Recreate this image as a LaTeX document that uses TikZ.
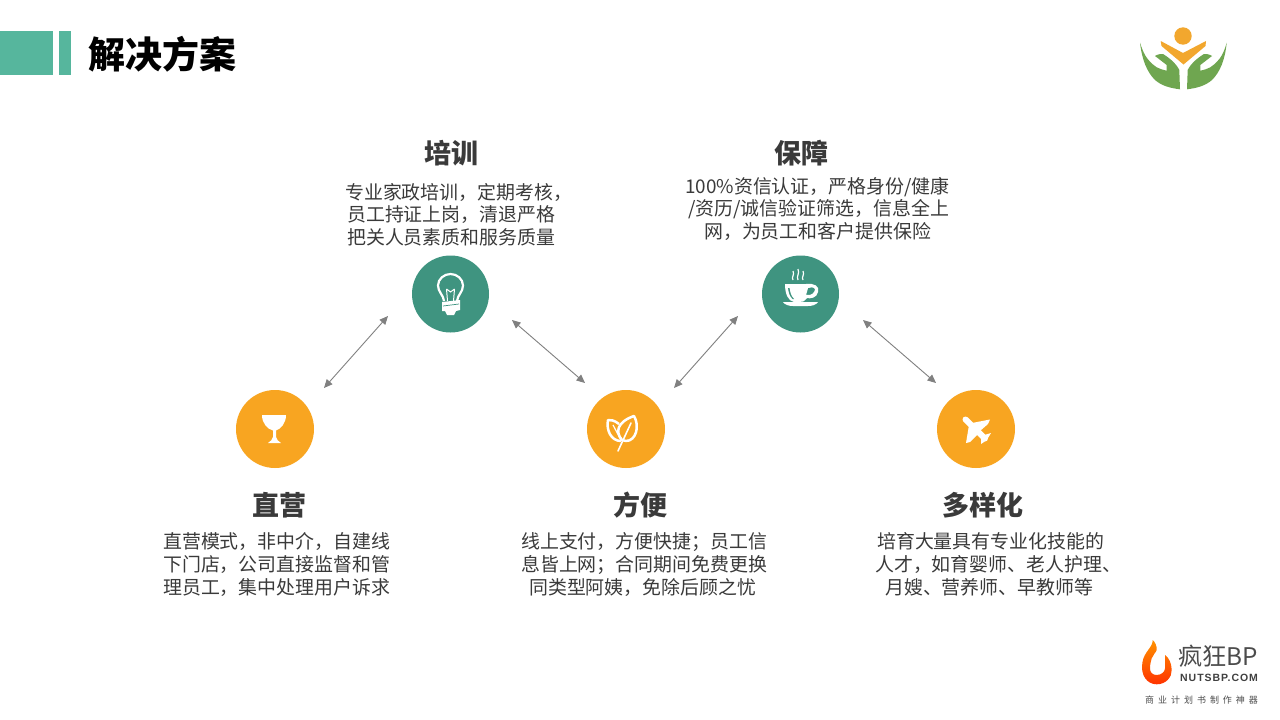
\documentclass[tikz,border=0pt]{standalone}
\usepackage{fontspec}
\setmainfont{Noto Sans CJK SC}
\newfontfamily\sitefont[LetterSpace=9]{Liberation Sans}
\newfontfamily\sloganfont[LetterSpace=44]{Noto Sans CJK SC}
\usetikzlibrary{arrows.meta}
\definecolor{tealbar}{HTML}{56B69D}
\definecolor{tealcirc}{HTML}{3F9480}
\definecolor{orangecirc}{HTML}{F8A521}
\definecolor{txt}{HTML}{3A3A3A}
\definecolor{logogreen}{HTML}{6FA650}
\definecolor{logoorange}{HTML}{F2A72E}
\tikzset{
  greencirc/.style={circle,fill=tealcirc,minimum size=77pt,inner sep=0pt},
  orgcirc/.style={circle,fill=orangecirc,minimum size=78pt,inner sep=0pt},
  head/.style={anchor=center,inner sep=0pt,text=txt,font=\fontsize{27}{27}\selectfont\bfseries},
  body/.style={anchor=base west,inner sep=0pt,text=txt,font=\fontsize{18.92}{19}\selectfont},
  link/.style={draw=black!50,line width=0.9pt,{Triangle[length=8.5pt,width=7.5pt]}-{Triangle[length=8.5pt,width=7.5pt]}},
  icon/.style={fill=white,draw=none},
  iconl/.style={draw=white,fill=none,line width=1.6pt}
}
\begin{document}
\begin{tikzpicture}[x=1pt,y=-1pt]
\useasboundingbox (0,0) rectangle (1280,720);
\fill[white] (0,0) rectangle (1280,720);
% title
\fill[tealbar] (0,31) rectangle (53,75);
\fill[tealbar] (59,31) rectangle (71,75);
\node[anchor=center,inner sep=0pt,text=black,font=\fontsize{37}{37}\selectfont\bfseries] (title) at (162.5,54) {解决方案};
% circles
\node[greencirc] (peixun) at (450.5,294) {};
\node[greencirc] (baozhang) at (800.5,294) {};
\node[orgcirc] (zhiying) at (275,429) {};
\node[orgcirc] (fangbian) at (626,429) {};
\node[orgcirc] (duoyang) at (976,429) {};
% connectors
\coordinate (a1s) at (324,388); \coordinate (a1e) at (388,316);
\coordinate (a2s) at (512,320); \coordinate (a2e) at (585,383);
\coordinate (a3s) at (674,388); \coordinate (a3e) at (738,316);
\coordinate (a4s) at (863,320); \coordinate (a4e) at (936,383);
\draw[link] (a1s) -- (a1e);
\draw[link] (a2s) -- (a2e);
\draw[link] (a3s) -- (a3e);
\draw[link] (a4s) -- (a4e);
% headings
\node[head] (h1) at (451,153) {培训};
\node[head] (h2) at (801,153) {保障};
\node[head] (h3) at (279,505) {直营};
\node[head] (h4) at (640,505) {方便};
\node[head] (h5) at (983,505) {多样化};
% body
\node[body] (p1) at (345,199.5) {专业家政培训，定期考核，};
\node[body] (p2) at (347,221.5) {员工持证上岗，清退严格};
\node[body] (p3) at (347,244) {把关人员素质和服务质量};
\node[body] (b1) at (685,193.5) {100\%资信认证，严格身份/健康};
\node[body] (b2) at (688,215.5) {/资历/诚信验证筛选，信息全上};
\node[body] (b3) at (704,238) {网，为员工和客户提供保险};
\node[body] (z1) at (163,548) {直营模式，非中介，自建线};
\node[body] (z2) at (163,571) {下门店，公司直接监督和管};
\node[body] (z3) at (163,594) {理员工，集中处理用户诉求};
\node[body] (f1) at (521,548.5) {线上支付，方便快捷；员工信};
\node[body] (f2) at (521,571) {息皆上网；合同期间免费更换};
\node[body] (f3) at (529,594) {同类型阿姨，免除后顾之忧};
\node[body] (d1) at (877,548) {培育大量具有专业化技能的};
\node[body] (d2) at (875,571) {人才，如育婴师、老人护理、};
\node[body] (d3) at (885,594) {月嫂、营养师、早教师等};
% bulb icon
\draw[iconl,line width=2.2pt] (444,301) .. controls (443.5,295) and (438,292) .. (438,285.5) .. controls (438,279) and (444,274) .. (450.5,274) .. controls (457,274) and (463,279) .. (463,285.5) .. controls (463,292) and (457.5,295) .. (457,301);
\draw[iconl,line width=1pt] (447.5,301) -- (446.5,289) (453.5,301) -- (454.5,289) (446.5,289) -- (450.5,292) -- (454.5,289);
\fill[icon] (442,302) -- (460,300) -- (460,310) -- (456,311) -- (454,315) -- (447,315) -- (445,311) -- (442,311) -- cycle;
\draw[tealcirc,line width=0.7pt] (443,306) -- (459,304);
% cup icon
\fill[icon,even odd rule] (785,284) -- (806,284) .. controls (814,283) and (820,286) .. (818,292) .. controls (817,298) and (810,299) .. (807,298) .. controls (804,302) and (802,302) .. (799,302) -- (794,302) .. controls (788,301) and (785,294) .. (785,284) -- cycle
  (808,288) .. controls (807,291) and (807,293) .. (806,295) .. controls (812,296) and (815,292) .. (815,289) .. controls (814,287) and (810,287) .. (808,288) -- cycle;
\fill[tealcirc] (789.5,288) .. controls (790,292) and (791,296) .. (794,299) -- (792.5,299) .. controls (789.5,296) and (788.5,292) .. (788,288) -- cycle;
\fill[icon] (783,302) -- (818,302) .. controls (816,305) and (812,306) .. (808,306) -- (793,306) .. controls (789,306) and (785,305) .. (783,302) -- cycle;
\draw[draw=white,line width=1.2pt] (793,280) .. controls (791,277) and (795,275) .. (793,271)
  (798,280) .. controls (796,276) and (800,274) .. (798,269)
  (803,280) .. controls (801,277) and (805,275) .. (803,271);
% glass icon
\fill[icon] (262,415) -- (286,415) .. controls (286,423) and (281,429) .. (276,430.5) -- (276,437) .. controls (276,440) and (279,441) .. (281,443) -- (268,443) .. controls (270,441) and (273,440) .. (273,437) -- (273,430.5) .. controls (267,429) and (262,423) .. (262,415) -- cycle;
% leaf icon
\begin{scope}[draw=white,line width=2.5pt,line join=round]
\draw (619,424) .. controls (614,420) and (611,420) .. (608,420) .. controls (606,430) and (611,441) .. (621,441);
\draw (622,440) .. controls (615,432) and (617,422) .. (634,416) .. controls (640,426) and (636,441) .. (626,441) -- cycle;
\draw[line width=1.6pt,line cap=round] (618,451) -- (631,423);
\draw[line width=1.2pt] (613,425) -- (621,440);
\end{scope}
% plane icon
\draw[white,line width=6pt,line cap=round] (965.5,419.5) -- (985,438.5);
\fill[icon] (972,423) -- (990,419.5) -- (988,424) -- (980,431) -- cycle;
\fill[icon] (969,425) -- (966,443) -- (970,442) -- (979,433) -- cycle;
\fill[icon] (981,436) -- (991,433) -- (988,438) -- (984,442) -- (981,444) -- cycle;
% top logo
\fill[logoorange] (1183,36) circle (8.7);
\fill[logoorange] (1160.7,41) -- (1183,53) -- (1206,41) -- (1205.5,46) -- (1183.5,64.5) -- (1161.5,46) -- cycle;
\fill[logogreen] (1140,42.7) .. controls (1143,52) and (1146,60) .. (1156.7,67.3) .. controls (1160,69) and (1163,70) .. (1166.7,70.7) -- (1166.7,65) -- (1155,56) .. controls (1158,54) and (1161,54) .. (1163,54) .. controls (1168,57) and (1176,63) .. (1179.3,70) -- (1180,89.3) .. controls (1170,88) and (1162,86) .. (1155,80) .. controls (1147,72) and (1142,60) .. (1140,42.7) -- cycle;
\fill[logogreen] (1226.7,42.7) .. controls (1224,52) and (1221,60) .. (1210.3,67.3) .. controls (1207,69) and (1204,70) .. (1200.3,70.7) -- (1200.3,65) -- (1212,56) .. controls (1209,54) and (1206,54) .. (1204,54) .. controls (1199,57) and (1191,63) .. (1187.7,70) -- (1187,89.3) .. controls (1197,88) and (1205,86) .. (1212,80) .. controls (1220,72) and (1225,60) .. (1226.7,42.7) -- cycle;
% bottom logo
\shade[top color=orange!85!yellow,bottom color=red!60!orange] (1152.7,640) .. controls (1153,647) and (1144,652) .. (1142.5,662) .. controls (1140,675) and (1147,684.3) .. (1156.7,684.3) .. controls (1166,684.3) and (1172,677) .. (1171.7,670) .. controls (1171.5,663) and (1169,658) .. (1165,655) -- (1165,668.3) .. controls (1165,672) and (1161,675) .. (1156.7,675) .. controls (1152,675) and (1150,672) .. (1150,668.3) .. controls (1150,664) and (1151,661) .. (1151.7,658.3) .. controls (1153,655) and (1156,652) .. (1156.7,650) .. controls (1157,646) and (1155,642) .. (1152.7,640) -- cycle;
\node[anchor=base west,inner sep=0pt,text=black!70,font=\fontsize{24.3}{26}\selectfont] (brand) at (1178,665) {疯狂BP};
\node[anchor=base west,inner sep=0pt,text=black!75,font=\sitefont\fontsize{10.5}{11}\selectfont\bfseries] (site) at (1180,681) {NUTSBP.COM};
\node[anchor=base west,inner sep=0pt,text=black!70,font=\sloganfont\fontsize{9}{9}\selectfont] (slogan) at (1145,703) {商业计划书制作神器};
\end{tikzpicture}
\end{document}
